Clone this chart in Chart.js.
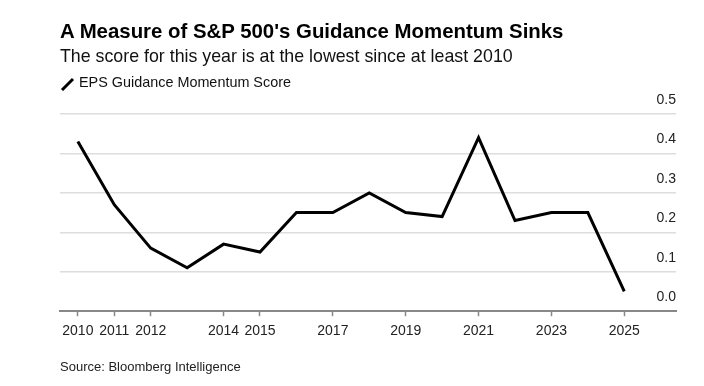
<!DOCTYPE html>
<html>
<head>
<meta charset="utf-8">
<script src="https://cdn.jsdelivr.net/npm/chart.js@4.4.1/dist/chart.umd.min.js"></script>
<style>
  html, body { margin: 0; padding: 0; background: #fff; }
  body { width: 704px; height: 386px; position: relative; overflow: hidden; font-family: "Liberation Sans", Arial, sans-serif; color: #000; }
  .txt { position: absolute; left: 60px; white-space: nowrap; }
  #title { top: 20px; font-size: 20.4px; font-weight: bold; }
  #subtitle { top: 46px; font-size: 17.8px; color: #111; }
  #legend { top: 74px; font-size: 14.4px; color: #111; }
  #legend svg { position: absolute; left: 0; top: 3px; }
  #legend span { position: absolute; left: 19px; top: 0; }
  #source { top: 359px; font-size: 13px; color: #222; }
  #wrap { position: absolute; left: 0; top: 0; width: 704px; height: 386px; }
</style>
</head>
<body>
<div id="wrap"><canvas id="line-chart"></canvas></div>
<div class="txt" id="title">A Measure of S&amp;P 500's Guidance Momentum Sinks</div>
<div class="txt" id="subtitle">The score for this year is at the lowest since at least 2010</div>
<div class="txt" id="legend">
  <svg width="16" height="14"><line x1="2" y1="13" x2="13" y2="2" stroke="#000" stroke-width="3"/></svg>
  <span>EPS Guidance Momentum Score</span>
</div>
<div class="txt" id="source">Source: Bloomberg Intelligence</div>

<script>
    /*--------------------------------
        Data
    ----------------------------------*/
    var years = [2010, 2011, 2012, 2013, 2014, 2015, 2016, 2017, 2018, 2019, 2020, 2021, 2022, 2023, 2024, 2025];
    var scores = [0.43, 0.27, 0.16, 0.11, 0.17, 0.15, 0.25, 0.25, 0.30, 0.25, 0.24, 0.44, 0.23, 0.25, 0.25, 0.05];
    var xTickYears = [2010, 2011, 2012, 2014, 2015, 2017, 2019, 2021, 2023, 2025];
    var yTickValues = [0, 0.1, 0.2, 0.3, 0.4, 0.5];

    /*--------------------------------
        Chart
    ----------------------------------*/
    function loadLineChart() {
        var points = years.map(function (yr, i) {
            return { x: yr, y: scores[i] };
        });

        var lineChartData = {
            datasets: [{
                label: "EPS Guidance Momentum Score",
                data: points,
                borderColor: "#000",
                borderWidth: 3,
                pointRadius: 0,
                tension: 0,
                borderJoinStyle: "miter",
                clip: false
            }]
        };

        var lineChartOptions = {
            responsive: false,
            animation: false,
            layout: {
                padding: { left: 60, right: 28, top: 114, bottom: 39 }
            },
            plugins: {
                legend: { display: false },
                tooltip: { enabled: false }
            },
            scales: {
                x: {
                    type: "linear",
                    min: 2009.51,
                    max: 2026.42,
                    afterBuildTicks: function (axis) {
                        axis.ticks = xTickYears.map(function (v) { return { value: v }; });
                    },
                    ticks: {
                        color: "#222",
                        padding: 7,
                        maxRotation: 0,
                        autoSkip: false,
                        font: { family: "'Liberation Sans', Arial, sans-serif", size: 14 },
                        callback: function (v) { return String(v); }
                    },
                    grid: {
                        drawOnChartArea: false,
                        drawTicks: true,
                        tickLength: 5,
                        tickColor: "#888",
                        tickWidth: 1.5
                    },
                    border: { display: true, color: "#888", width: 2 }
                },
                y: {
                    position: "right",
                    min: 0,
                    max: 0.5,
                    afterBuildTicks: function (axis) {
                        axis.ticks = yTickValues.map(function (v) { return { value: v }; });
                    },
                    ticks: {
                        mirror: true,
                        padding: 0,
                        labelOffset: -14,
                        color: "#222",
                        font: { family: "'Liberation Sans', Arial, sans-serif", size: 14 },
                        callback: function (v) { return v.toFixed(1); }
                    },
                    grid: {
                        color: "#dddddd",
                        lineWidth: 1.5,
                        drawTicks: false
                    },
                    border: { display: false }
                }
            }
        };

        var canvas = document.getElementById("line-chart");
        canvas.width = 704;
        canvas.height = 386;
        new Chart(canvas.getContext("2d"), {
            type: "line",
            data: lineChartData,
            options: lineChartOptions
        });
    }
    loadLineChart();
</script>
</body>
</html>
